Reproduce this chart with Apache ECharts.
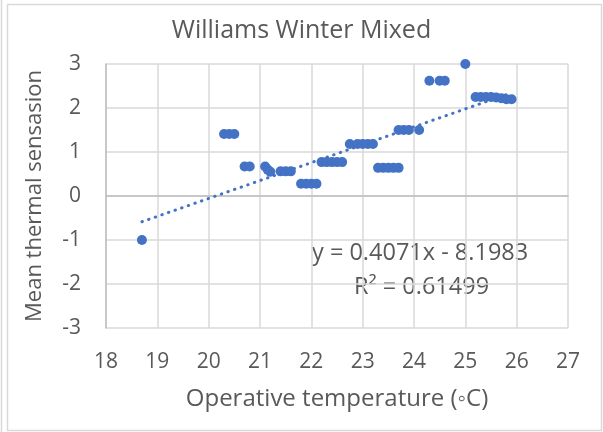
<!DOCTYPE html>
<html>
<head>
<meta charset="UTF-8">
<title>Williams Winter Mixed</title>
<script src="https://cdn.jsdelivr.net/npm/echarts@6/dist/echarts.min.js"></script>
<style>
  html, body { margin: 0; padding: 0; background: #fff; }
  #chart { width: 603px; height: 432px; }
</style>
</head>
<body>
<div id="chart"></div>
<script>
// observed points (operative temperature, mean thermal sensation)
var tempX = [18.7,
  20.3, 20.4, 20.5,
  20.7, 20.8,
  21.1, 21.15, 21.2,
  21.4, 21.5, 21.6,
  21.8, 21.9, 22.0, 22.1,
  22.2, 22.3, 22.4, 22.5, 22.6,
  22.75, 22.9, 23.0, 23.1, 23.2,
  23.3, 23.4, 23.5, 23.6, 23.7,
  23.7, 23.8, 23.9, 24.1,
  24.3, 24.5, 24.6,
  25.0,
  25.2, 25.3, 25.4, 25.5, 25.6, 25.7, 25.8, 25.9];
var sensY = [-1,
  1.41, 1.41, 1.41,
  0.67, 0.67,
  0.67, 0.6, 0.55,
  0.56, 0.56, 0.56,
  0.28, 0.28, 0.28, 0.28,
  0.77, 0.77, 0.77, 0.77, 0.77,
  1.18, 1.18, 1.18, 1.18, 1.18,
  0.64, 0.64, 0.64, 0.64, 0.64,
  1.5, 1.5, 1.5, 1.5,
  2.62, 2.62, 2.62,
  3.0,
  2.25, 2.25, 2.25, 2.25, 2.24, 2.22, 2.2, 2.2];
// linear trendline end points (y = 0.4071x - 8.1983)
var trendX = [18.7, 25.9];
var trendY = [-0.585, 2.346];
var xTicks = [18, 19, 20, 21, 22, 23, 24, 25, 26, 27];
var yTicks = [-3, -2, -1, 0, 1, 2, 3];

var chart = echarts.init(document.getElementById('chart'), null, { renderer: 'canvas' });

var pts = tempX.map(function (x, i) { return [x, sensY[i]]; });
var trend = trendX.map(function (x, i) { return [x, trendY[i]]; });

var textColor = '#595959';
var fontFam = '"Open Sans", "Noto Sans", sans-serif';

var option = {
  backgroundColor: '#fff',
  animation: false,
  title: {
    text: 'Williams Winter Mixed',
    left: 'center',
    top: 13,
    textStyle: { color: textColor, fontSize: 25, fontWeight: 'normal', fontFamily: fontFam }
  },
  grid: { left: 106, right: 35, top: 64, bottom: 104 },
  xAxis: {
    type: 'value',
    min: xTicks[0],
    max: xTicks[xTicks.length - 1],
    interval: 1,
    name: 'Operative temperature (\u25e6C)',
    nameLocation: 'middle',
    nameGap: 59,
    nameTextStyle: { color: textColor, fontSize: 24, fontFamily: fontFam },
    axisLine: { show: true, lineStyle: { color: '#bfbfbf', width: 1.5 } },
    axisTick: { show: false },
    axisLabel: { color: textColor, fontSize: 21, fontFamily: fontFam, margin: 24 },
    splitLine: { show: true, lineStyle: { color: '#d9d9d9', width: 1.5 } }
  },
  yAxis: {
    type: 'value',
    min: yTicks[0],
    max: yTicks[yTicks.length - 1],
    interval: 1,
    name: 'Mean thermal sensasion',
    nameLocation: 'middle',
    nameGap: 60,
    nameTextStyle: { color: textColor, fontSize: 22, fontFamily: fontFam },
    axisLine: { show: true, lineStyle: { color: '#bfbfbf', width: 1.5 } },
    axisTick: { show: false },
    axisLabel: { color: textColor, fontSize: 21, fontFamily: fontFam, margin: 25 },
    splitLine: { show: true, lineStyle: { color: '#d9d9d9', width: 1.5 } }
  },
  graphic: [
    {
      type: 'rect',
      shape: { x: 7.5, y: 4.5, width: 594, height: 426 },
      style: { fill: 'none', stroke: '#d9d9d9', lineWidth: 1.5 },
      z: -1
    },
    {
      type: 'line',
      shape: { x1: 1.5, y1: 0, x2: 1.5, y2: 432 },
      style: { stroke: '#d9d9d9', lineWidth: 1.5 },
      z: -1
    },
    {
      type: 'text',
      left: 312, top: 241,
      style: { text: 'y = 0.4071x - 8.1983', fill: textColor, fontSize: 23.5, fontFamily: fontFam }
    },
    {
      type: 'text',
      left: 354, top: 275,
      style: { text: 'R\u00b2 = 0.61499', fill: textColor, fontSize: 23.5, fontFamily: fontFam }
    }
  ],
  series: [
    {
      type: 'line',
      data: trend,
      symbol: 'none',
      lineStyle: { color: '#4472C4', width: 3, type: [0.5, 6.5], cap: 'round' },
      z: 1
    },
    {
      type: 'scatter',
      data: pts,
      symbolSize: 10,
      itemStyle: { color: '#4472C4', opacity: 1 },
      z: 2
    }
  ]
};

chart.setOption(option);
</script>
</body>
</html>
